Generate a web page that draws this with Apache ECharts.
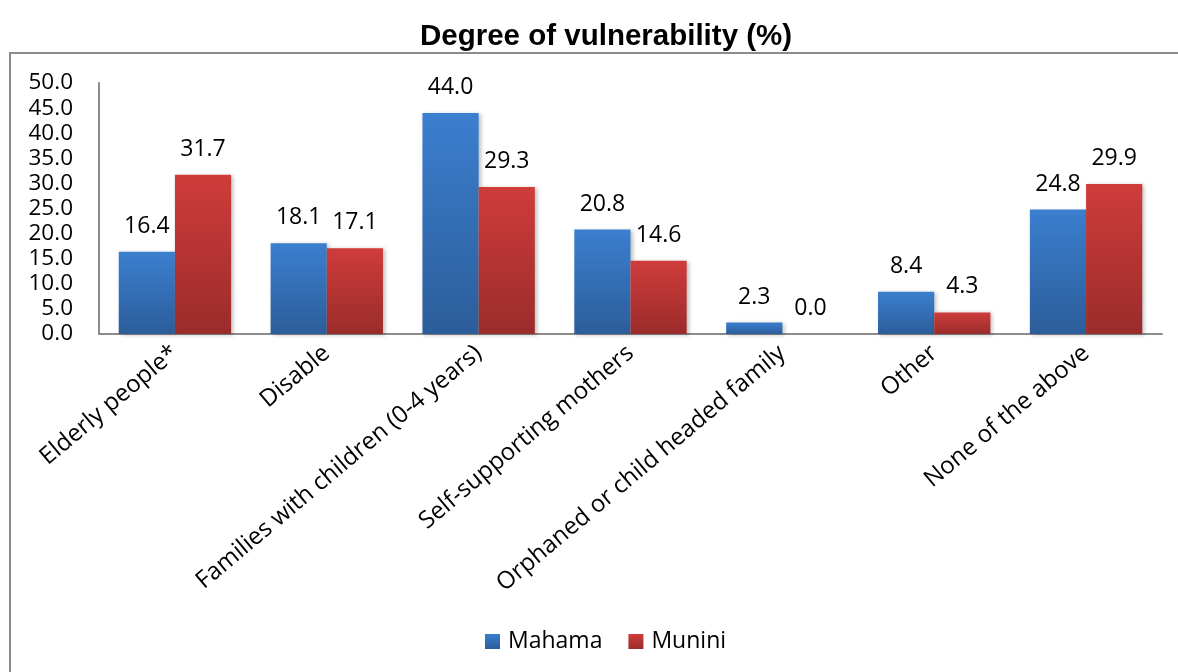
<!DOCTYPE html>
<html>
	<head>
		<meta charset="utf-8" />
		<title>Degree of vulnerability</title>
		<script type="text/javascript" src="https://cdn.jsdelivr.net/npm/echarts@6/dist/echarts.min.js"></script>
		<style>
			html,body{ margin:0; padding:0; background:#fff;}
			#chart{ width:1178px; height:672px;}
		</style>
	</head>
	<body>
		<div id="chart"></div>
	</body>
</html>
<script>
	var categories=['Elderly people*','Disable','Families with children (0-4 years)','Self-supporting mothers','Orphaned or child headed family','Other','None of the above'];
	var mahama=[16.4,18.1,44.0,20.8,2.3,8.4,24.8];
	var munini=[31.7,17.1,29.3,14.6,0.0,4.3,29.9];
	var seriesNames=['Mahama','Munini'];
	var yTicks=[0,5,10,15,20,25,30,35,40,45,50];

	var font="'Open Sans', sans-serif";
	//柱子渐变色
	function grad(top,bottom){
		return new echarts.graphic.LinearGradient(0,0,0,1,[
			{offset:0,color:top},
			{offset:1,color:bottom}
		]);
	}
	function barSeries(name,data,top,bottom){
		return {
			name:name,
			type:'bar',
			data:data,
			barGap:'0%',
			barCategoryGap:'26%',
			itemStyle:{
				color:grad(top,bottom),
				shadowColor:'rgba(0,0,0,0.25)',
				shadowBlur:4,
				shadowOffsetX:2,
				shadowOffsetY:1
			},
			label:{
				show:true,
				position:'top',
				distance:14,
				color:'#000',
				fontFamily:font,
				fontSize:23,
				formatter:function(p){ return p.value.toFixed(1); }
			}
		};
	}
	var myChart=echarts.init(document.getElementById('chart'));
	var option={
		animation:false,
		title:{
			text:'Degree of vulnerability (%)',
			left:415,
			top:17,
			textStyle:{ fontFamily:'Liberation Sans, Arial, sans-serif', fontWeight:'bold', fontSize:29.5, color:'#000'}
		},
		graphic:[{
			type:'rect',
			shape:{ x:10, y:53, width:1220, height:700},
			style:{ fill:'none', stroke:'#8c8c8c', lineWidth:2},
			silent:true
		}],
		legend:{
			data:seriesNames,
			bottom:14,
			left:480,
			itemWidth:15,
			itemHeight:15,
			itemGap:26,
			icon:'rect',
			textStyle:{ fontFamily:font, fontSize:23, color:'#000', padding:[0,0,0,3]}
		},
		grid:{ left:99, right:16, top:83, bottom:338},
		xAxis:{
			type:'category',
			data:categories,
			axisLine:{ lineStyle:{ color:'#8c8c8c', width:2}},
			axisTick:{ show:false},
			axisLabel:{ rotate:40, margin:16, interval:0, color:'#000', fontFamily:font, fontSize:24}
		},
		yAxis:{
			type:'value',
			min:yTicks[0],
			max:yTicks[yTicks.length-1],
			interval:5,
			axisLine:{ show:true, lineStyle:{ color:'#8c8c8c', width:2}},
			axisTick:{ show:false},
			splitLine:{ show:false},
			axisLabel:{ margin:26, color:'#000', fontFamily:font, fontSize:22.5, formatter:function(v){ return v.toFixed(1); }}
		},
		series:[
			barSeries(seriesNames[0],mahama,'#3b7fcf','#2c5d9a'),
			barSeries(seriesNames[1],munini,'#cf3c3a','#9a2c2b')
		]
	};
	myChart.setOption(option);
</script>
